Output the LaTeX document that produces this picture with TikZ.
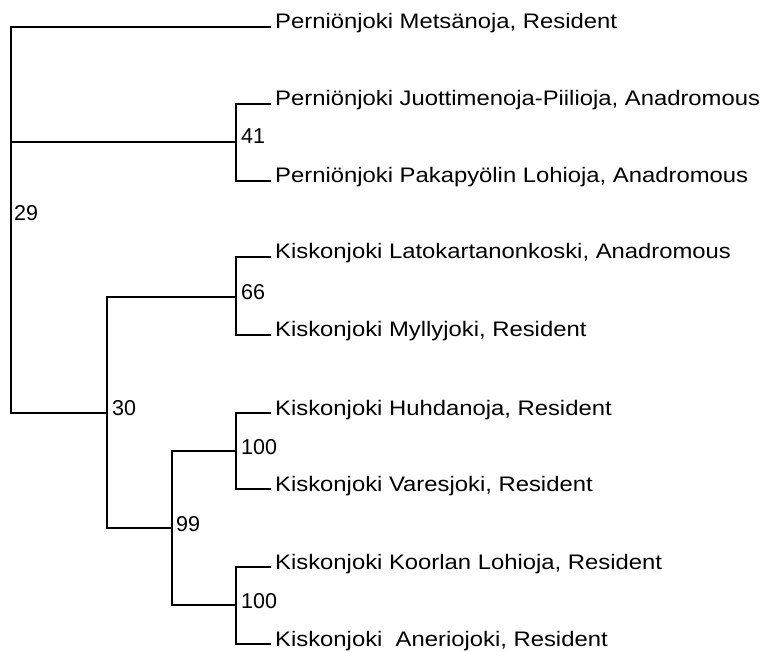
\documentclass[tikz,border=0pt]{standalone}
\usepackage{fontspec}
\setmainfont{Liberation Sans}
\usepackage{graphicx}
\newcommand{\wtxt}[1]{\scalebox{1.135}[1]{#1}}
\begin{document}
\begin{tikzpicture}[x=1pt,y=1pt,
  branch/.style={line width=1.8pt, line cap=rect},
  leaf/.style={anchor=base west, inner sep=0pt, font=\fontsize{21}{24}\selectfont},
  support/.style={anchor=base west, inner sep=0pt, font=\fontsize{21.5}{24}\selectfont}]
\useasboundingbox (0,0) rectangle (763,-652);
% internal nodes
\coordinate (root) at (11,-220);
\coordinate (n41) at (236,-142);
\coordinate (n66) at (236,-297);
\coordinate (n100a) at (236,-451);
\coordinate (n100b) at (236,-605);
\coordinate (n99) at (172,-528);
\coordinate (n30) at (107,-413);
% leaf ends
\coordinate (l1) at (270,-27);
\coordinate (l2) at (270,-104);
\coordinate (l3) at (270,-181);
\coordinate (l4) at (270,-257);
\coordinate (l5) at (270,-335);
\coordinate (l6) at (270,-413);
\coordinate (l7) at (270,-489);
\coordinate (l8) at (270,-567);
\coordinate (l9) at (270,-644);
% branches
\draw[branch] (l1) -| (root |- n30) -- (n30);
\draw[branch] (root |- n41) -- (n41);
\draw[branch] (l2) -| (n41) |- (l3);
\draw[branch] (n66) -| (n30) |- (n99);
\draw[branch] (l4) -| (n66) |- (l5);
\draw[branch] (n100a) -| (n99) |- (n100b);
\draw[branch] (l6) -| (n100a) |- (l7);
\draw[branch] (l8) -| (n100b) |- (l9);
% leaf labels
\node[leaf] (t1) at (275,-29) {\wtxt{Perniönjoki Metsänoja, Resident}};
\node[leaf] (t2) at (275,-106) {\wtxt{Perniönjoki Juottimenoja-Piilioja, Anadromous}};
\node[leaf] (t3) at (275,-183) {\wtxt{Perniönjoki Pakapyölin Lohioja, Anadromous}};
\node[leaf] (t4) at (275,-259) {\wtxt{Kiskonjoki Latokartanonkoski, Anadromous}};
\node[leaf] (t5) at (275,-337) {\wtxt{Kiskonjoki Myllyjoki, Resident}};
\node[leaf] (t6) at (275,-415) {\wtxt{Kiskonjoki Huhdanoja, Resident}};
\node[leaf] (t7) at (275,-491) {\wtxt{Kiskonjoki Varesjoki, Resident}};
\node[leaf] (t8) at (275,-569) {\wtxt{Kiskonjoki Koorlan Lohioja, Resident}};
\node[leaf] (t9) at (275,-646) {\wtxt{Kiskonjoki~ Aneriojoki, Resident}};
% support values
\node[support] (s29) at (14,-221) {29};
\node[support] (s41) at (241,-144) {41};
\node[support] (s66) at (241,-300) {66};
\node[support] (s30) at (112,-415.5) {30};
\node[support] (s100a) at (241,-454) {100};
\node[support] (s99) at (176,-531) {99};
\node[support] (s100b) at (241,-608) {100};
\end{tikzpicture}
\end{document}
